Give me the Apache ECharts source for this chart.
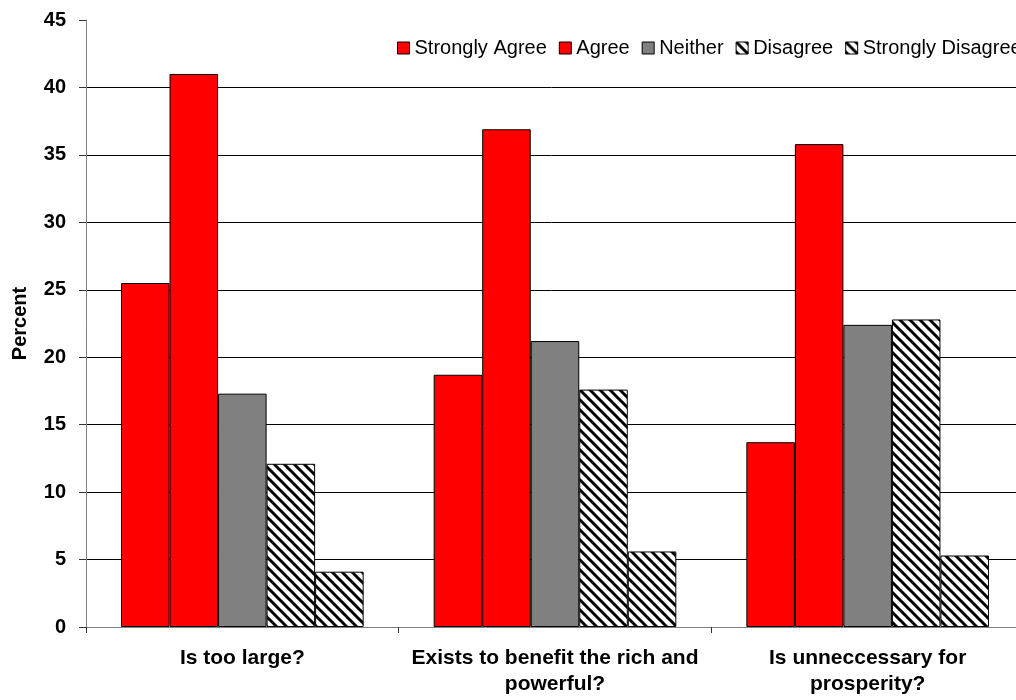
<!DOCTYPE html>
<html>
<head>
<meta charset="utf-8">
<script src="https://cdn.jsdelivr.net/npm/echarts@6/dist/echarts.min.js"></script>
<style>
  html, body { margin: 0; padding: 0; background: #fff; }
  #chart { width: 1016px; height: 700px; }
</style>
</head>
<body>
<div id="chart"></div>
<script>
var categories = ['Is too large?', 'Exists to benefit the rich and\npowerful?', 'Is unneccessary for\nprosperity?'];
var seriesNames = ['Strongly Agree', 'Agree', 'Neither', 'Disagree', 'Strongly Disagree'];
var stronglyAgree = [25.5, 18.7, 13.7];
var agree = [41, 36.9, 35.8];
var neither = [17.3, 21.2, 22.4];
var disagree = [12.1, 17.6, 22.8];
var stronglyDisagree = [4.1, 5.6, 5.3];

// diagonal hatch tile (top-left to bottom-right)
function hatch(size, width) {
  var c = document.createElement('canvas');
  c.width = size; c.height = size;
  var ctx = c.getContext('2d');
  ctx.fillStyle = '#fff';
  ctx.fillRect(0, 0, size, size);
  ctx.strokeStyle = '#000';
  ctx.lineWidth = width;
  for (var k = -1; k <= 1; k++) {
    ctx.beginPath();
    ctx.moveTo(k * size - 2, -2);
    ctx.lineTo(k * size + size + 2, size + 2);
    ctx.stroke();
  }
  return { image: c, repeat: 'repeat' };
}

var fills = ['#ff0000', '#ff0000', '#808080', hatch(10, 3), hatch(10, 3)];
var values = [stronglyAgree, agree, neither, disagree, stronglyDisagree];

var myChart = echarts.init(document.getElementById('chart'));
var font = 'Liberation Sans, Arial, sans-serif';

var option = {
  animation: false,
  backgroundColor: '#fff',
  textStyle: { fontFamily: font },
  legend: {
    left: 397,
    top: 38,
    width: 800,
    padding: 0,
    itemWidth: 12,
    itemHeight: 12,
    itemGap: 12,
    icon: 'rect',
    itemStyle: { borderColor: '#000', borderWidth: 1 },
    textStyle: { fontSize: 20, color: '#000', fontFamily: font },
    data: seriesNames
  },
  grid: { left: 86, top: 20, right: -8, bottom: 73, containLabel: false, outerBoundsMode: 'none' },
  xAxis: {
    type: 'category',
    data: categories,
    axisLine: { lineStyle: { color: '#808080', width: 1 } },
    axisTick: { show: true, length: 6, lineStyle: { color: '#333' } },
    axisLabel: {
      fontSize: 21, fontWeight: 'bold', color: '#000', fontFamily: font,
      lineHeight: 26, margin: 18, interval: 0
    }
  },
  yAxis: {
    type: 'value',
    min: 0, max: 45, interval: 5,
    name: 'Percent',
    nameLocation: 'middle',
    nameGap: 56,
    nameRotate: 90,
    nameTextStyle: { fontSize: 20, fontWeight: 'bold', color: '#000', fontFamily: font },
    axisLine: { show: true, lineStyle: { color: '#808080', width: 1 } },
    axisTick: { show: true, length: 7, lineStyle: { color: '#333' } },
    axisLabel: { fontSize: 20, fontWeight: 'bold', color: '#000', fontFamily: font, margin: 20 },
    splitLine: { show: true, showMaxLine: false, lineStyle: { color: '#000', width: 1 } }
  },
  series: seriesNames.map(function (name, i) {
    return {
      name: name,
      type: 'bar',
      data: values[i],
      barGap: '0%',
      barCategoryGap: '22.4%',
      itemStyle: { color: fills[i], borderColor: '#000', borderWidth: 1 }
    };
  })
};
myChart.setOption(option);
</script>
</body>
</html>
